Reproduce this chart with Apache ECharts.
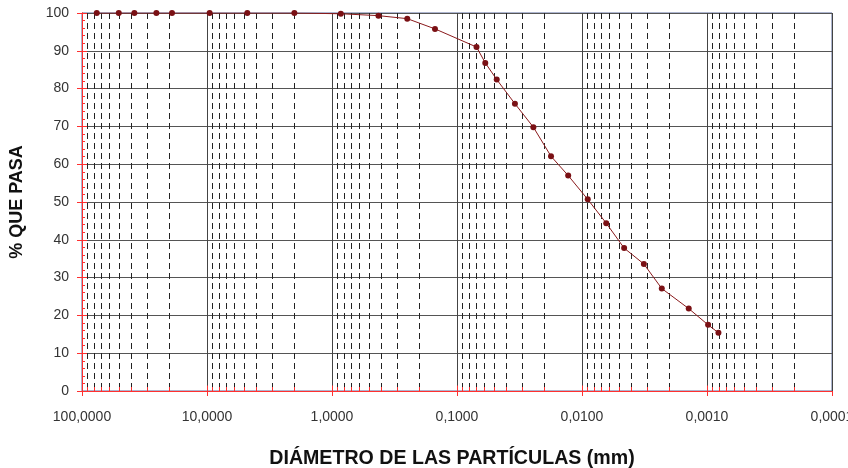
<!DOCTYPE html>
<html>
<head>
<meta charset="utf-8">
<script src="https://cdn.jsdelivr.net/npm/echarts@6/dist/echarts.min.js"></script>
<style>
  html, body { margin: 0; padding: 0; background: #fff; }
  #chart { width: 848px; height: 468px; }
</style>
</head>
<body>
<div id="chart"></div>
<script>
// diameters (mm) and % passing
const diametros = [76.2, 50.8, 38.1, 25.4, 19.05, 9.525, 4.76, 2.0, 0.85, 0.425, 0.25, 0.15,
  0.0698, 0.0594, 0.0481, 0.0344, 0.0245, 0.0177, 0.0129, 0.0090, 0.0064, 0.0046,
  0.0032, 0.0023, 0.0014, 0.00098, 0.00081];
const pasa = [100, 100, 100, 100, 100, 100, 100, 100, 99.8, 99.3, 98.5, 95.8,
  91.0, 86.8, 82.4, 76.0, 69.8, 62.1, 57.0, 50.7, 44.4, 37.8,
  33.6, 27.1, 21.8, 17.5, 15.4];
const decadas = [-4, -3, -2, -1, 0, 1];
const multiplos = [2, 3, 4, 5, 6, 7, 8, 9];

const FONT = "'Liberation Sans', Arial, sans-serif";

// minor log positions 2..9 x 10^k
const menores = [];
decadas.forEach(k => {
  multiplos.forEach(m => menores.push(+(m * Math.pow(10, k)).toPrecision(3)));
});
const mayores = [0.001, 0.01, 0.1, 1, 10];

function fmtX(v) {
  return v.toFixed(4).replace('.', ',');
}

const chart = echarts.init(document.getElementById('chart'));

const yBase = {
  type: 'value',
  min: 0,
  max: 100,
  interval: 10,
  position: 'left',
  axisLine: { show: true, lineStyle: { color: '#ff3030', width: 1 } }
};

const option = {
  animation: false,
  backgroundColor: '#fff',
  grid: {
    left: 82, right: 16, top: 13, bottom: 77,
    containLabel: false,
    outerBoundsMode: 'none',
    show: true, borderColor: '#5a6a9e', borderWidth: 1
  },
  xAxis: {
    type: 'log',
    logBase: 10,
    min: 0.0001,
    max: 100,
    interval: 1,
    inverse: true,
    axisLine: { show: true, onZero: false, lineStyle: { color: '#ff3030', width: 1 } },
    axisTick: { show: true, length: 5, lineStyle: { color: '#ff3030' } },
    minorTick: { show: false },
    axisLabel: {
      formatter: fmtX, color: '#333', fontFamily: FONT, fontSize: 14, margin: 19,
      showMinLabel: true, showMaxLabel: true, hideOverlap: false
    },
    splitLine: { show: true, lineStyle: { color: '#444', width: 1 } }
  },
  yAxis: [
    Object.assign({}, yBase, {
      name: '% QUE PASA',
      nameLocation: 'middle',
      nameGap: 56,
      nameTextStyle: { fontFamily: FONT, fontWeight: 'bold', fontSize: 18, color: '#111' },
      axisTick: { show: true, length: 5, lineStyle: { color: '#ff3030' } },
      axisLabel: { color: '#333', fontFamily: FONT, fontSize: 14, margin: 13 },
      splitLine: { show: true, lineStyle: { color: '#555', width: 1 } }
    }),
    Object.assign({}, yBase, {
      axisTick: { show: true, inside: true, length: 5, lineStyle: { color: '#ff3030' } },
      minorTick: { show: true, splitNumber: 5, length: 3, lineStyle: { color: '#ff3030' } },
      axisLabel: { show: false },
      splitLine: { show: false }
    })
  ],
  graphic: [{
    type: 'text',
    x: 452, y: 459,
    style: {
      text: 'DIÁMETRO DE LAS PARTÍCULAS (mm)',
      fill: '#111',
      font: 'bold 19.6px ' + FONT,
      align: 'center',
      verticalAlign: 'middle'
    }
  }],
  series: [
    {
      // minor dashed grid lines
      type: 'line',
      data: [],
      silent: true,
      z: 1,
      markLine: {
        silent: true,
        symbol: 'none',
        label: { show: false },
        lineStyle: { color: '#222', width: 1, type: [6, 4] },
        data: menores.map(v => [{ coord: [v, 100] }, { coord: [v, 0] }])
      }
    },
    {
      // inward red ticks on the x axis
      type: 'line',
      data: [],
      silent: true,
      z: 3,
      markLine: {
        silent: true,
        symbol: 'none',
        label: { show: false },
        lineStyle: { color: '#ff3030', width: 1, type: 'solid' },
        data: menores.map(v => [{ coord: [v, 0] }, { coord: [v, 1.05] }])
          .concat(mayores.map(v => [{ coord: [v, 0] }, { coord: [v, 1.45] }]))
      }
    },
    {
      type: 'line',
      data: diametros.map((d, i) => [d, pasa[i]]),
      z: 5,
      symbol: 'circle',
      symbolSize: 6,
      itemStyle: { color: '#7a1014' },
      lineStyle: { color: '#8a1a1c', width: 1 }
    }
  ]
};

chart.setOption(option);
</script>
</body>
</html>
